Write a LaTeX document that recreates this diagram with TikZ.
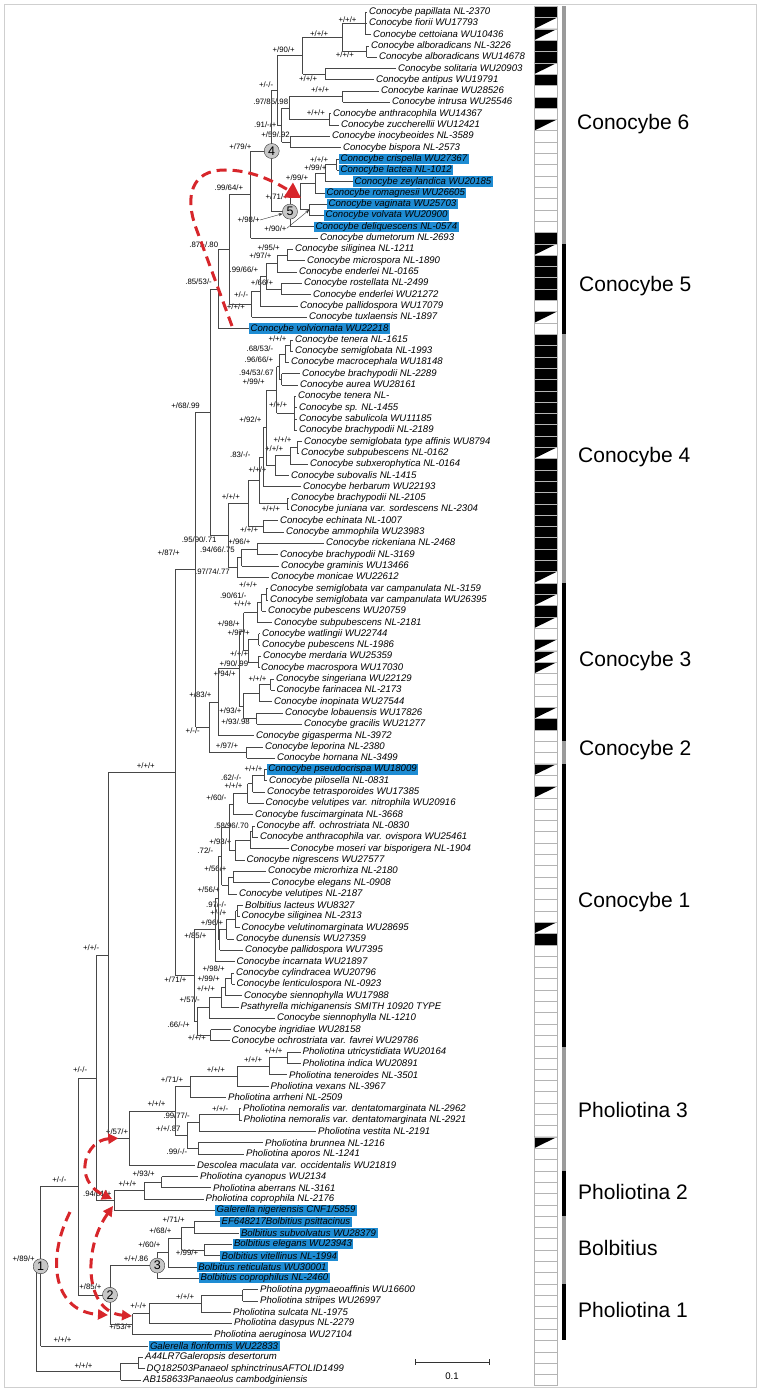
\documentclass[tikz,border=0pt]{standalone}
\usepackage{fontspec}
\setmainfont{Liberation Sans}
\usetikzlibrary{arrows.meta, calc}
\definecolor{hlblue}{HTML}{1E8CD3}
\definecolor{arrowred}{HTML}{D7262B}
\definecolor{framegray}{HTML}{CFCFCF}
\definecolor{cladegray}{HTML}{9A9A9A}
\definecolor{cellline}{HTML}{B4B4B4}

% clade: name, x, children, support, support position
\newcommand\clade[5]{%
  \foreach \c [count=\k] in {#3}{\ifnum\k=1 \xdef\cfirst{\c}\fi\xdef\clast{\c}}%
  \path let \p1=($(\cfirst)!0.5!(\clast)$) in (#2pt,\y1) coordinate (#1);
  \draw[branch] (#1 |- \cfirst) -- (#1 |- \clast);
  \foreach \c in {#3}{\draw[branch] (#1 |- \c) -- (\c);}
  \if\relax\detokenize{#4}\relax\else\node[sup] (#1-s) at (#5) {#4};\fi
}

\begin{document}
\begin{tikzpicture}[x=1pt, y=-1pt,
  branch/.style={draw=black!72, line width=0.75pt},
  taxon/.style={anchor=west, inner xsep=2pt, inner ysep=0pt, font=\itshape\fontsize{9.6}{10}\selectfont},
  taxonhl/.style={taxon, fill=hlblue, inner xsep=1.5pt, minimum height=10.2pt},
  sup/.style={anchor=east, inner sep=0pt, font=\fontsize{7.8}{8}\selectfont},
  nodenum/.style={circle, draw=black!80, fill=black!22, inner sep=0pt, minimum size=15pt, font=\fontsize{12.5}{13}\selectfont},
  cladelab/.style={anchor=west, inner sep=0pt, font=\fontsize{21}{22}\selectfont},
  reddash/.style={draw=arrowred, line width=3pt, dash pattern=on 10pt off 6pt},
  redtip/.style={arrowred, fill=arrowred}]
\useasboundingbox (0,0) rectangle (760,1391);
\draw[framegray, line width=0.8pt] (4,4) rectangle (756,1387);

% taxa
\foreach \tx/\st/\nm [count=\i] in {
  367/taxon/{Conocybe papillata NL-2370}, 367/taxon/{Conocybe fiorii WU17793},
  371/taxon/{Conocybe cettoiana WU10436}, 369/taxon/{Conocybe alboradicans NL-3226},
  377/taxon/{Conocybe alboradicans WU14678}, 396/taxon/{Conocybe solitaria WU20903},
  374/taxon/{Conocybe antipus WU19791}, 379/taxon/{Conocybe karinae WU28526},
  390/taxon/{Conocybe intrusa WU25546}, 331/taxon/{Conocybe anthracophila WU14367},
  339/taxon/{Conocybe zuccherellii WU12421}, 330/taxon/{Conocybe inocybeoides NL-3589},
  341/taxon/{Conocybe bispora NL-2573}, 339/taxonhl/{Conocybe crispella WU27367},
  339/taxonhl/{Conocybe lactea NL-1012}, 353/taxonhl/{Conocybe zeylandica WU20185},
  325/taxonhl/{Conocybe romagnesii WU26605}, 327/taxonhl/{Conocybe vaginata WU25703},
  324/taxonhl/{Conocybe volvata WU20900}, 314/taxonhl/{Conocybe deliquescens NL-0574},
  318/taxon/{Conocybe dumetorum NL-2693}, 293/taxon/{Conocybe siliginea NL-1211},
  305/taxon/{Conocybe microspora NL-1890}, 297/taxon/{Conocybe enderlei NL-0165},
  302/taxon/{Conocybe rostellata NL-2499}, 311/taxon/{Conocybe enderlei WU21272},
  298/taxon/{Conocybe pallidospora WU17079}, 307/taxon/{Conocybe tuxlaensis NL-1897},
  249/taxonhl/{Conocybe volviornata WU22218}, 293/taxon/{Conocybe tenera NL-1615},
  293/taxon/{Conocybe semiglobata NL-1993}, 289/taxon/{Conocybe macrocephala WU18148},
  300/taxon/{Conocybe brachypodii NL-2289}, 298/taxon/{Conocybe aurea WU28161},
  296/taxon/{Conocybe tenera NL-}, 297/taxon/{Conocybe sp. NL-1455},
  297/taxon/{Conocybe sabulicola WU11185}, 297/taxon/{Conocybe brachypodii NL-2189},
  302/taxon/{Conocybe semiglobata type affinis WU8794}, 299/taxon/{Conocybe subpubescens NL-0162},
  308/taxon/{Conocybe subxerophytica NL-0164}, 289/taxon/{Conocybe subovalis NL-1415},
  301/taxon/{Conocybe herbarum WU22193}, 289/taxon/{Conocybe brachypodii NL-2105},
  288.5/taxon/{Conocybe juniana var. sordescens NL-2304}, 278/taxon/{Conocybe echinata NL-1007},
  284/taxon/{Conocybe ammophila WU23983}, 324/taxon/{Conocybe rickeniana NL-2468},
  278/taxon/{Conocybe brachypodii NL-3169}, 279/taxon/{Conocybe graminis WU13466},
  269/taxon/{Conocybe monicae WU22612}, 268/taxon/{Conocybe semiglobata var campanulata NL-3159},
  268/taxon/{Conocybe semiglobata var campanulata WU26395}, 266/taxon/{Conocybe pubescens WU20759},
  272/taxon/{Conocybe subpubescens NL-2181}, 260/taxon/{Conocybe watlingii WU22744},
  260/taxon/{Conocybe pubescens NL-1986}, 261/taxon/{Conocybe merdaria WU25359},
  259/taxon/{Conocybe macrospora WU17030}, 274/taxon/{Conocybe singeriana WU22129},
  274.5/taxon/{Conocybe farinacea NL-2173}, 272/taxon/{Conocybe inopinata WU27544},
  283/taxon/{Conocybe lobauensis WU17826}, 302/taxon/{Conocybe gracilis WU21277},
  254/taxon/{Conocybe gigasperma NL-3972}, 263/taxon/{Conocybe leporina NL-2380},
  275/taxon/{Conocybe hornana NL-3499}, 266.7/taxonhl/{Conocybe pseudocrispa WU18009},
  267/taxon/{Conocybe pilosella NL-0831}, 265/taxon/{Conocybe tetrasporoides WU17385},
  263.5/taxon/{Conocybe velutipes var. nitrophila WU20916}, 253/taxon/{Conocybe fuscimarginata NL-3668},
  254.5/taxon/{Conocybe aff. ochrostriata NL-0830}, 258/taxon/{Conocybe anthracophila var. ovispora WU25461},
  288.5/taxon/{Conocybe moseri var bisporigera NL-1904}, 244.5/taxon/{Conocybe nigrescens WU27577},
  266/taxon/{Conocybe microrhiza NL-2180}, 269.5/taxon/{Conocybe elegans NL-0908},
  237/taxon/{Conocybe velutipes NL-2187}, 243/taxon/{Bolbitius lacteus WU8327},
  239.5/taxon/{Conocybe siliginea NL-2313}, 239.5/taxon/{Conocybe velutinomarginata WU28695},
  234/taxon/{Conocybe dunensis WU27359}, 243/taxon/{Conocybe pallidospora WU7395},
  234.5/taxon/{Conocybe incarnata WU21897}, 234/taxon/{Conocybe cylindracea WU20796},
  234.5/taxon/{Conocybe lenticulospora NL-0923}, 242/taxon/{Conocybe siennophylla WU17988},
  238.5/taxon/{Psathyrella michiganensis SMITH 10920 TYPE}, 275/taxon/{Conocybe siennophylla NL-1210},
  231/taxon/{Conocybe ingridiae WU28158}, 229.5/taxon/{Conocybe ochrostriata var. favrei WU29786},
  300.5/taxon/{Pholiotina utricystidiata WU20164}, 300.5/taxon/{Pholiotina indica WU20891},
  287/taxon/{Pholiotina teneroides NL-3501}, 268.5/taxon/{Pholiotina vexans NL-3967},
  226/taxon/{Pholiotina arrheni NL-2509}, 241/taxon/{Pholiotina nemoralis var. dentatomarginata NL-2962},
  241.5/taxon/{Pholiotina nemoralis var. dentatomarginata NL-2921}, 316/taxon/{Pholiotina vestita NL-2191},
  263/taxon/{Pholiotina brunnea NL-1216}, 244/taxon/{Pholiotina aporos NL-1241},
  195/taxon/{Descolea maculata var. occidentalis WU21819}, 198/taxon/{Pholiotina cyanopus WU2134},
  211/taxon/{Pholiotina aberrans NL-3161}, 203.5/taxon/{Pholiotina coprophila NL-2176},
  215/taxonhl/{Galerella nigeriensis CNF1/5859}, 220/taxonhl/{EF648217Bolbitius psittacinus},
  239.3/taxonhl/{Bolbitius subvolvatus WU28379}, 232.3/taxonhl/{Bolbitius elegans WU23943},
  220/taxonhl/{Bolbitius vitellinus NL-1994}, 196.7/taxonhl/{Bolbitius reticulatus WU30001},
  199/taxonhl/{Bolbitius coprophilus NL-2460}, 258/taxon/{Pholiotina pygmaeoaffinis WU16600},
  258/taxon/{Pholiotina striipes WU26997}, 231/taxon/{Pholiotina sulcata NL-1975},
  232/taxon/{Pholiotina dasypus NL-2279}, 212/taxon/{Pholiotina aeruginosa WU27104},
  148.3/taxonhl/{Galerella floriformis WU22833}, 143/taxon/{A44LR7Galeropsis desertorum},
  144.5/taxon/{DQ182503Panaeol sphinctrinusAFTOLID1499}, 141/taxon/{AB158633Panaeolus cambodginiensis}}
  {\node[\st] (t\i) at (\tx,{12+(\i-1)*11.306}) {\nm};}

% Conocybe 6
\clade{pf}{365.5}{t1,t2,t3}{+/+/+}{356.7,19.3}
\clade{albo}{366.7}{t4,t5}{+/+/+}{354,55}
\clade{nA}{342.7}{pf,albo}{+/+/+}{328.3,33.3}
\clade{sa}{325}{t6,t7}{+/+/+}{317.3,79}
\clade{nB}{302.7}{nA,sa}{+/90/+}{295,49.3}
\clade{ki}{342.7}{t8,t9}{+/+/+}{329.3,90}
\clade{az}{329.3}{t10,t11}{+/+/+}{325,112.7}
\clade{nD}{289.3}{ki,az}{.97/85/.98}{288.3,101.7}
\clade{ib}{290}{t12,t13}{+/59/.92}{290,135}
\clade{nE}{281.7}{nD,ib}{.91/-/+}{276.7,125}
\clade{nC}{277.3}{nB,nE}{+/-/-}{273.3,85}
\clade{c5a}{336.7}{t14,t15}{+/+/+}{328.3,159.3}
\clade{c5b}{325}{c5a,t16}{+/99/+}{326.7,168}
\clade{c5c}{315}{c5b,t17}{+/99/+}{308.3,177.7}
\clade{c5d}{309.3}{t18,t19}{+/90/+}{286.7,228.3}
\clade{c5e}{300}{c5c,c5d}{+/71/+}{288,196.7}
\clade{c5}{290}{c5e,t20}{+/98/+}{260,220}
\clade{node4}{271.7}{nC,c5}{+/79/+}{251.7,146.7}
\clade{nG}{250.7}{node4,t21}{.99/64/+}{243.3,188}
% Conocybe 5
\clade{sm}{287.3}{t22,t23}{+/95/+}{280,247.7}
\clade{sme}{277.3}{sm,t24}{+/97/+}{271.7,255.7}
\clade{re}{281.7}{t25,t26}{+/66/+}{273.3,282.3}
\clade{smre}{266}{sme,re}{.99/66/+}{258.3,270}
\clade{smrep}{260}{smre,t27}{+/-/-}{248.3,295}
\clade{C5}{251.7}{smrep,t28}{+/+/+}{245,306.7}
\clade{nH}{229.3}{nG,C5}{.87/-/.80}{218.3,244.7}
\clade{nI}{218.3}{nH,t29}{.85/53/-}{212,282}
% Conocybe 4
\clade{ts}{290}{t30,t31}{+/+/+}{286.7,339}
\clade{tsm}{285}{ts,t32}{.68/53/-}{273.3,349}
\clade{ba}{281.7}{t33,t34}{.94/53/.67}{274,372.3}
\clade{tsmba}{279.3}{tsm,ba}{.96/66/+}{273.3,360}
\clade{g35}{294}{t35,t36,t37,t38}{+/+/+}{287.3,405}
\clade{top4}{276.7}{tsmba,g35}{+/99/+}{265,381.7}
\clade{g39}{297.3}{t39,t40}{+/+/+}{291.7,440}
\clade{g39s}{290}{g39,t41}{+/+/+}{283.3,448.3}
\clade{g39so}{275}{g39s,t42}{+/+/+}{266.7,469.3}
\clade{nK}{266}{top4,g39so}{+/92/+}{261.7,419.3}
\clade{nL}{263}{nK,t43}{.83/-/-}{250.7,455}
\clade{bj}{287.3}{t44,t45}{+/+/+}{280,508.3}
\clade{X}{259.5}{nL,bj}{}{}
\clade{ea}{263.3}{t46,t47}{+/+/+}{258.3,530}
\clade{nO}{248.3}{X,ea}{+/+/+}{240,497}
\clade{rb}{257.3}{t48,t49}{+/96/+}{250.7,541.7}
\clade{rbg}{241.7}{rb,t50}{.94/66/.75}{235,550}
\clade{rbgm}{237.3}{rbg,t51}{.97/74/.77}{230,571.7}
\clade{nP}{228.3}{nO,rbgm}{.95/90/.71}{216.7,539.3}
\clade{nJ}{210}{nI,nP}{+/68/.99}{200,405.7}
% Conocybe 3 and 2
\clade{cc}{266}{t52,t53}{+/+/+}{257.3,585}
\clade{ccp}{261.7}{cc,t54}{.90/61/-}{246.7,596}
\clade{ccps}{257.3}{ccp,t55}{+/+/+}{251.7,603.3}
\clade{wp}{258.5}{t56,t57}{+/97/+}{250,632.7}
\clade{mm}{258.5}{t58,t59}{+/90/.99}{248.3,664}
\clade{wpmm}{248.3}{wp,mm}{+/+/+}{248.3,653.3}
\clade{nS}{243.5}{ccps,wpmm}{+/98/+}{240,623.3}
\clade{sf}{270.7}{t60,t61}{+/+/+}{266.7,678.3}
\clade{sfi}{259.3}{sf,t62}{}{}
\clade{lg}{256.7}{t63,t64}{+/93/.98}{250,721.7}
\clade{sfilg}{243}{sfi,lg}{+/93/+}{241.7,710.7}
\clade{nT}{239}{nS,sfilg}{+/94/+}{236,673.3}
\clade{nU}{218.3}{nT,t65}{+/83/+}{211.7,695}
\clade{C2}{246.7}{t66,t67}{+/97/+}{238.3,745.7}
\clade{nV}{209.3}{nU,C2}{+/-/-}{200,731}
\clade{nQ}{195.7}{nJ,nV}{+/87/+}{180,553}
% Conocybe 1
\clade{pp}{264.3}{t68,t69}{+/+/+}{262.7,768.3}
\clade{ppt}{252.7}{pp,t70}{.62/-/-}{241.7,777.3}
\clade{pptv}{247.7}{ppt,t71}{+/+/+}{242.7,786}
\clade{pptvf}{233.3}{pptv,t72}{+/60/-}{226.7,797.3}
\clade{ao}{252}{t73,t74}{.58/96/.70}{249,826}
\clade{aom}{250}{ao,t75}{}{}
\clade{aomn}{235}{aom,t76}{+/93/+}{231.7,841.7}
\clade{g1}{229}{pptvf,aomn}{}{}
\clade{me}{233.3}{t77,t78}{+/56/+}{226.7,868.3}
\clade{mev}{228.3}{me,t79}{+/56/+}{220,889.3}
\clade{g2}{221.7}{g1,mev}{.72/-}{213.3,851}
\clade{bs}{237}{t80,t81}{.97/-/-}{226.7,904.3}
\clade{bsv}{235.5}{bs,t82}{+/-/+}{226.7,912.3}
\clade{bsvd}{226.7}{bsv,t83}{+/96/+}{223.3,922.3}
\clade{bsvdp}{219.5}{bsvd,t84}{}{}
\clade{g3}{218}{g2,bsvdp}{}{}
\clade{g4}{215}{g3,t85}{+/85/+}{206.7,936}
\clade{cl}{231.7}{t86,t87}{+/98/+}{225,969}
\clade{cls}{225}{cl,t88}{+/99/+}{220,978.3}
\clade{clsp}{221}{cls,t89}{+/+/+}{215,988.3}
\clade{clsps}{209.3}{clsp,t90}{+/57/-}{200,999.3}
\clade{if}{210.7}{t91,t92}{+/+/+}{206,1037.3}
\clade{g5}{197}{clsps,if}{.66/-/+}{190,1025}
\clade{C1}{194}{g4,g5}{+/71/+}{186.7,980}
\clade{nX}{175}{nQ,C1}{+/+/+}{155,765.7}
% Pholiotina 3
\clade{ui}{287.3}{t93,t94}{+/+/+}{282.7,1050.7}
\clade{uit}{269.3}{ui,t95}{+/+/+}{262.3,1059.3}
\clade{uitv}{237.3}{uit,t96}{+/+/+}{225,1069.3}
\clade{uitva}{190}{uitv,t97}{+/71/+}{183.3,1079.3}
\clade{nn}{239.3}{t98,t99}{+/+/-}{228.3,1108.3}
\clade{nnv}{199.3}{nn,t100}{.99/77/-}{190,1116}
\clade{ba2}{198.3}{t101,t102}{.99/-/-}{187.3,1151.7}
\clade{nnvba}{187.3}{nnv,ba2}{+/+/.87}{180.7,1128.3}
\clade{Ph3a}{175}{uitva,nnvba}{+/+/+}{165.7,1104}
\clade{Ph3}{129.3}{Ph3a,t103}{+/57/+}{128.3,1132}
\clade{nY}{108.3}{nX,Ph3}{+/+/-}{99.3,948}
% Pholiotina 2
\clade{ca}{161.7}{t104,t105}{+/93/+}{155,1174}
\clade{cac}{144}{ca,t106}{+/+/+}{136.7,1183.3}
\clade{Ph2}{114}{cac,t107}{.94/61/+}{111.7,1193.3}
\clade{nZ}{96.7}{nY,Ph2}{+/-/-}{87.3,1070}
% Bolbitius and Pholiotina 1
\clade{es}{194}{t108,t109}{+/71/+}{185,1220}
\clade{ev}{204}{t110,t111}{+/99/+}{198.3,1252.7}
\clade{esev}{181.7}{es,ev}{+/68/+}{171.7,1230.7}
\clade{esevr}{168.3}{esev,t112}{+/60/+}{160.7,1245}
\clade{B}{157.3}{esevr,t113}{+/+/.86}{148.3,1258.3}
\clade{ps}{242.7}{t114,t115}{}{}
\clade{pss}{201}{ps,t116}{+/+/+}{194.3,1296.7}
\clade{pssd}{149}{pss,t117}{+/-/+}{146.7,1306}
\clade{Ph1}{132.7}{pssd,t118}{+/53/+}{131.7,1326.7}
\clade{node2}{110}{B,Ph1}{+/85/+}{101.7,1286.7}
\clade{nAA}{78.3}{nZ,node2}{+/-/-}{66.7,1180}
\clade{node1}{40.7}{nAA,t119}{+/89/+}{35,1258.3}
\node[sup] (t119-s) at (71.7,1340) {+/+/+};
\clade{ad}{138.3}{t120,t121}{}{}
\clade{og}{120.7}{ad,t122}{+/+/+}{92.7,1366}
\clade{root}{36.7}{node1,og}{}{}

% numbered nodes
\node[nodenum] (k1) at (node1) {1};
\node[nodenum] (k2) at (node2) {2};
\node[nodenum] (k3) at (B) {3};
\node[nodenum] (k4) at (node4) {4};
\node[nodenum] (k5) at (c5) {5};
\draw[black!80, -{Stealth[length=4pt, width=3pt]}] (c5-s.east) -- (k5);
\draw[black!80, -{Stealth[length=4pt, width=3pt]}] (c5d-s.east) -- (c5d);

% red arrows
\coordinate (ra) at (232,326);
\coordinate (rb) at (301,198);
\draw[reddash, -{Triangle[length=15pt, width=17pt, fill=arrowred]}] (ra) -- (196,228) .. controls (185,198) and (190,170) .. (225,170) .. controls (250,170) and (272,180) .. (rb);
\draw[reddash, {Triangle[length=10pt, width=10pt]}-{Triangle[length=10pt, width=10pt]}] (Ph3) ++(-11,0) coordinate (rc) .. controls (85,1140) and (72,1180) .. (112,1199);
\draw[reddash, -{Triangle[length=10pt, width=10pt]}] (70,1212) .. controls (45,1262) and (55,1312) .. (108,1315);
\draw[reddash, {Triangle[length=10pt, width=10pt]}-{Triangle[length=10pt, width=10pt]}] (113,1206) .. controls (82,1250) and (85,1312) .. (132,1316);

% character column
\foreach \k [count=\i] in {b,u,u,b,b,u,b,w,b,w, u,w,w,w,w,w,w,w,w,w,
  b,u,b,b,b,b,w,u,w,b, b,b,b,b,b,b,b,b,b,u, b,b,b,b,b,b,b,b,b,b,
  u,b,u,b,u,w,u,u,u,w, w,w,u,b,w,w,w,u,w,u, w,w,w,w,w,w,w,w,w,w,
  w,u,b,w,w,w,w,w,w,w, w,w,w,w,w,w,w,w,w,w, u,w,w,w,w,w,w,w,w,w,
  w,w,w,w,w,w,w,w,w,w, w,w}{
  \pgfmathsetmacro\cy{12+(\i-1)*11.306}
  \if\k b\fill[black] (534,\cy-5.65) rectangle (557,\cy+5.65);\fi
  \if\k u\fill[black] (534,\cy-5.65) -- (557,\cy-5.65) -- (534,\cy+5.65) -- cycle;\fi
  \draw[cellline, line width=0.5pt] (534,\cy-5.65) rectangle (557,\cy+5.65);
}

% clade strips and names
\foreach \a/\b/\col in {1/21/cladegray, 22/29/black, 30/51/cladegray, 52/65/black, 66/67/cladegray,
  68/92/black, 93/103/cladegray, 104/107/black, 108/113/cladegray, 114/118/black}
  {\fill[\col] (562,{12+(\a-1)*11.306-5.65}) rectangle (566,{12+(\b-1)*11.306+5.65});}
\node[cladelab] (g6) at (577,124) {Conocybe 6};
\node[cladelab] (g5l) at (579,286) {Conocybe 5};
\node[cladelab] (g4l) at (578,457) {Conocybe 4};
\node[cladelab] (g3l) at (579,661) {Conocybe 3};
\node[cladelab] (g2l) at (579,750) {Conocybe 2};
\node[cladelab] (g1l) at (578,902) {Conocybe 1};
\node[cladelab] (p3l) at (578,1110) {Pholiotina 3};
\node[cladelab] (p2l) at (578,1192) {Pholiotina 2};
\node[cladelab] (bl) at (578,1248) {Bolbitius};
\node[cladelab] (p1l) at (578,1310) {Pholiotina 1};

% scale bar
\coordinate (sb1) at (415,1362);
\coordinate (sb2) at (489,1362);
\draw[black!80, line width=0.8pt] (sb1) -- (sb2);
\draw[black!80, line width=0.8pt] (sb1) ++(0,-3) -- ++(0,6);
\draw[black!80, line width=0.8pt] (sb2) ++(0,-3) -- ++(0,6);
\node[font=\fontsize{9.6}{10}\selectfont] (sbl) at ($(sb1)!0.5!(sb2)+(0,14)$) {0.1};
\end{tikzpicture}
\end{document}
